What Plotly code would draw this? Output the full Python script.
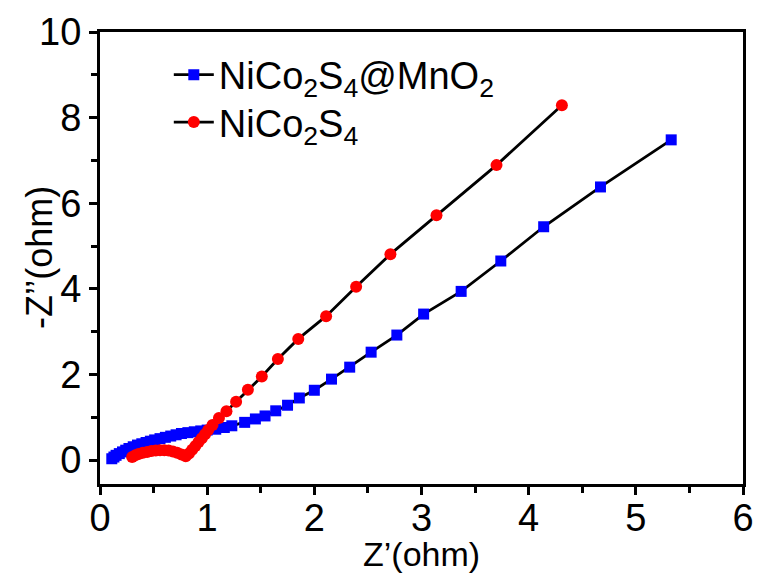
import plotly.graph_objects as go

# NiCo2S4@MnO2 (blue squares)
blue_x = [0.11, 0.13, 0.15, 0.18, 0.21, 0.24, 0.27, 0.31, 0.35, 0.39, 0.43, 0.47, 0.51,
          0.56, 0.61, 0.66, 0.71, 0.76, 0.82, 0.88, 0.94, 1.00, 1.08, 1.16, 1.23, 1.35,
          1.45, 1.54, 1.64, 1.75, 1.86, 2.00, 2.16, 2.33, 2.53, 2.77, 3.02, 3.37, 3.74,
          4.14, 4.67, 5.33]
blue_y = [0.03, 0.07, 0.11, 0.15, 0.19, 0.23, 0.27, 0.31, 0.35, 0.38, 0.41, 0.44, 0.47,
          0.50, 0.53, 0.56, 0.59, 0.62, 0.64, 0.66, 0.68, 0.70, 0.72, 0.76, 0.80, 0.88,
          0.96, 1.03, 1.15, 1.28, 1.45, 1.63, 1.89, 2.17, 2.52, 2.92, 3.41, 3.94, 4.65,
          5.45, 6.38, 7.48]

# NiCo2S4 (red circles)
red_x = [0.30, 0.33, 0.36, 0.40, 0.44, 0.48, 0.52, 0.56, 0.60, 0.64, 0.68, 0.72, 0.76,
         0.80, 0.83, 0.86, 0.89, 0.92, 0.95, 0.98, 1.01, 1.05, 1.11, 1.18, 1.27, 1.38,
         1.51, 1.66, 1.85, 2.11, 2.39, 2.71, 3.14, 3.70, 4.31]
red_y = [0.07, 0.11, 0.14, 0.17, 0.19, 0.21, 0.22, 0.23, 0.23, 0.22, 0.20, 0.17, 0.13,
         0.09, 0.15, 0.24, 0.33, 0.42, 0.51, 0.60, 0.70, 0.82, 0.98, 1.14, 1.36, 1.64,
         1.95, 2.36, 2.83, 3.36, 4.05, 4.81, 5.72, 6.89, 8.29]

names = ["NiCo<sub>2</sub>S<sub>4</sub>@MnO<sub>2</sub>", "NiCo<sub>2</sub>S<sub>4</sub>"]
x_title = "Z’(ohm)"
y_title = "-Z’’(ohm)"

FONT = "Arial, Liberation Sans, sans-serif"

fig = go.Figure()
fig.add_trace(go.Scatter(
    x=blue_x, y=blue_y, name=names[0], mode="lines+markers", legend="legend",
    line=dict(color="black", width=2.8),
    marker=dict(symbol="square", size=11, color="#0000ff", line=dict(width=0)),
))
fig.add_trace(go.Scatter(
    x=red_x, y=red_y, name=names[1], mode="lines+markers", legend="legend2",
    line=dict(color="black", width=2.8),
    marker=dict(symbol="circle", size=12, color="#ff0000", line=dict(width=0)),
))

axis_common = dict(
    showline=True, linecolor="black", linewidth=3, mirror=True,
    ticks="outside", ticklen=8, tickwidth=2.5, tickcolor="black",
    showgrid=False, zeroline=False, automargin=False,
    tickfont=dict(family=FONT, size=38, color="black"),
)

fig.update_xaxes(
    range=[0, 6], dtick=1, tick0=0, ticklabelstandoff=-10,
    minor=dict(dtick=0.5, ticks="outside", ticklen=6, tickwidth=2.5, tickcolor="black"),
    **axis_common,
)
fig.update_yaxes(
    range=[-0.56, 10], dtick=2, tick0=0,
    minor=dict(dtick=1, ticks="outside", ticklen=6, tickwidth=2.5, tickcolor="black"),
    **axis_common,
)

fig.add_annotation(
    text=x_title, xref="paper", yref="paper", x=0.5, y=0, yshift=-70,
    xanchor="center", yanchor="middle", showarrow=False,
    font=dict(family=FONT, size=34, color="black"),
)
fig.add_annotation(
    text=y_title, xref="paper", yref="paper", x=0, y=0.5, xshift=-61,
    xanchor="center", yanchor="middle", textangle=-90, showarrow=False,
    font=dict(family=FONT, size=36, color="black"),
)

legend_style = dict(
    xanchor="left", yanchor="middle",
    font=dict(family=FONT, size=38, color="black"),
    bgcolor="rgba(0,0,0,0)", itemwidth=40,
)

fig.update_layout(
    width=754, height=569,
    margin=dict(l=92, r=19, t=24, b=93),
    paper_bgcolor="white", plot_bgcolor="white",
    showlegend=True,
    legend=dict(x=0.107, y=0.905, **legend_style),
    legend2=dict(x=0.107, y=0.80, **legend_style),
)

fig.write_html("out.html")
